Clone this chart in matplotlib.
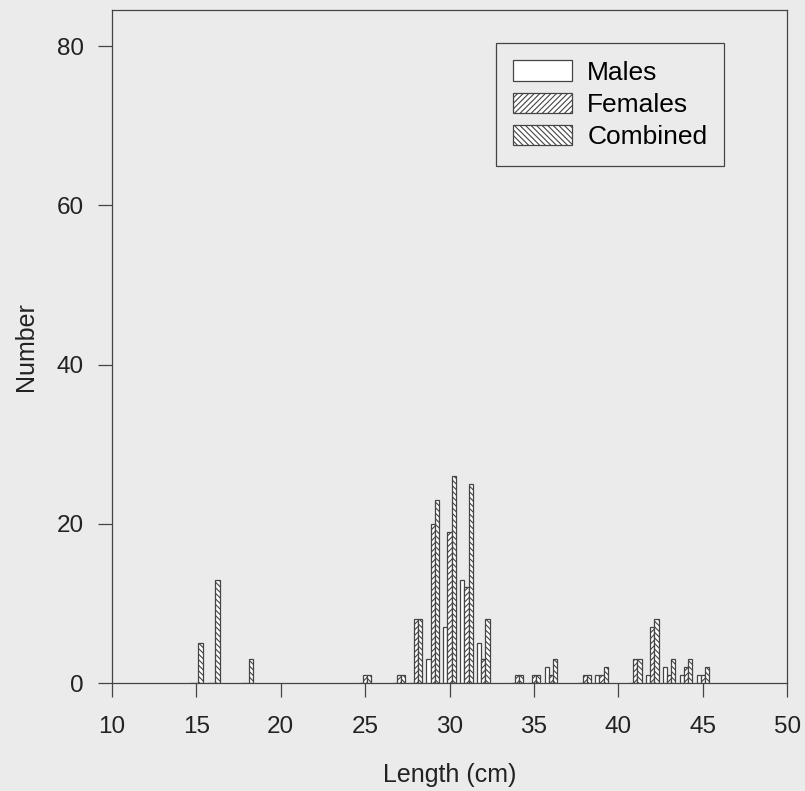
import matplotlib
matplotlib.use("Agg")
import matplotlib.pyplot as plt
import numpy as np

plt.rcParams['font.family'] = ['Liberation Sans', 'DejaVu Sans']
plt.rcParams['hatch.linewidth'] = 0.8
plt.rcParams['hatch.color'] = '#444444'

lengths = [15, 16, 18, 25, 27, 28, 29, 30, 31, 32, 34, 35, 36, 38, 39, 41, 42, 43, 44, 45]
males    = [0, 0, 0, 0, 0, 0, 3, 7, 13, 5, 0, 0, 2, 0, 1, 0, 1, 2, 1, 1]
females  = [0, 0, 0, 1, 1, 8, 20, 19, 12, 3, 1, 1, 1, 1, 1, 3, 7, 1, 2, 1]
combined = [5, 13, 3, 1, 1, 8, 23, 26, 25, 8, 1, 1, 3, 1, 2, 3, 8, 3, 3, 2]

bg = '#ebebeb'
txt = '#222222'
fig = plt.figure(figsize=(8.05, 7.91), dpi=100, facecolor=bg)
ax = fig.add_axes([0.139, 0.1365, 0.839, 0.8505], facecolor=bg)

x = np.array(lengths, dtype=float)
w = 0.25
ec = '#444444'
ax.bar(x - w, males, width=w, facecolor='white', edgecolor=ec, linewidth=0.9, label='Males')
ax.bar(x, females, width=w, facecolor='white', edgecolor=ec, linewidth=0.9, hatch='//////', label='Females')
ax.bar(x + w, combined, width=w, facecolor='white', edgecolor=ec, linewidth=0.9, hatch='\\\\\\\\\\\\', label='Combined')

ax.set_xlim(10, 50)
ax.set_ylim(0, 84.5)
ax.set_xticks(range(10, 51, 5))
ax.set_yticks(range(0, 81, 20))
ax.tick_params(labelsize=17.5, direction='out', length=10, width=0.9, color='#444444', labelcolor=txt)
ax.tick_params(axis='x', pad=14)
ax.tick_params(axis='y', pad=10)
for s in ax.spines.values():
    s.set_color('#444444')
    s.set_linewidth(0.9)
ax.set_xlabel('Length (cm)', fontsize=18, color=txt, labelpad=18)
ax.set_ylabel('Number', fontsize=18, color=txt, labelpad=14)

leg = ax.legend(loc='upper right', bbox_to_anchor=(0.907, 0.951), borderaxespad=0,
                fontsize=19, frameon=True,
                fancybox=False, edgecolor='#444444', handlelength=2.25, handleheight=0.8,
                borderpad=0.65, labelspacing=0.3, handletextpad=0.57, framealpha=1)
leg.get_frame().set_facecolor(bg)
leg.get_frame().set_linewidth(0.9)

fig.savefig('out.png', dpi=100, facecolor=bg)
